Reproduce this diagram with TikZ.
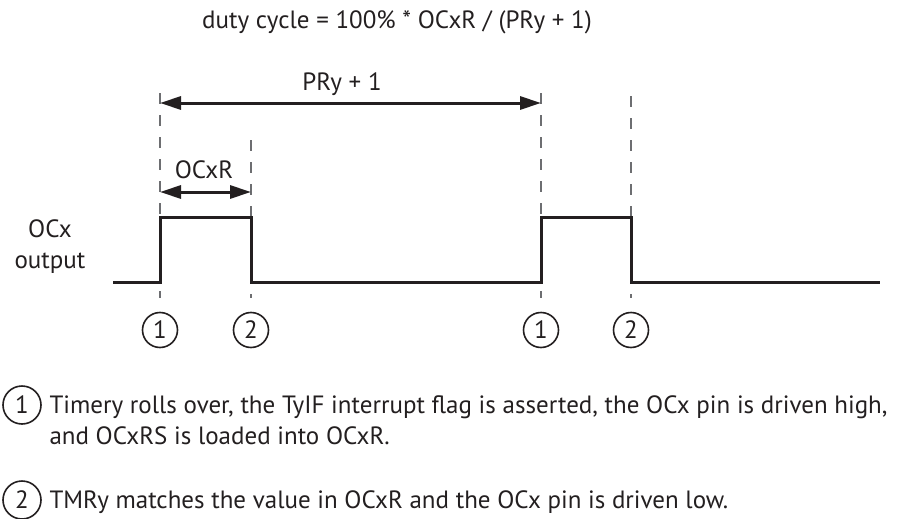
\documentclass[tikz,border=0pt]{standalone}
\usepackage{fontspec}
\setmainfont{PT Sans}
\usetikzlibrary{arrows.meta}

\definecolor{ink}{HTML}{231F20}
\definecolor{guidegray}{HTML}{6D6E71}

\begin{document}
\begin{tikzpicture}[
  x=1pt,
  y=-1pt,
  font=\fontsize{25}{31}\selectfont,
  every node/.style={text=ink},
  signal/.style={draw=ink,line width=3pt},
  guide/.style={draw=guidegray,line width=1.2pt,dash pattern=on 11pt off 11pt},
  span/.style={
    {Triangle[length=21pt,width=13pt]}-{Triangle[length=21pt,width=13pt]},
    draw=ink,
    line width=3pt
  },
  marker/.style={
    circle,
    draw=ink,
    line width=1.6pt,
    minimum size=35pt,
    inner sep=0pt
  },
  keymarker/.style={marker,minimum size=38pt}
]
  \useasboundingbox (0,0) rectangle (902,519);

  % edges of the two pulses
  \coordinate (rise1top) at (160,93);
  \coordinate (fall1top) at (251,140);
  \coordinate (rise2top) at (541,93);
  \coordinate (fall2top) at (631,96);
  \coordinate (rise1bot) at (160,298);
  \coordinate (fall1bot) at (251,298);
  \coordinate (rise2bot) at (541,298);
  \coordinate (fall2bot) at (631,298);

  \path[guide]
    (rise1top) edge (rise1bot)
    (fall1top) edge (fall1bot)
    (rise2top) edge (rise2bot)
    (fall2top) edge (fall2bot);

  \coordinate (lineleft) at (113,282);
  \coordinate (lineright) at (880,282);
  \draw[signal] (lineleft) -- (160,282) -- (160,217) -- (251,217) -- (251,282)
    -- (541,282) -- (541,217) -- (631,217) -- (631,282) -- (lineright);

  \coordinate (periodleft) at (160,103);
  \coordinate (periodright) at (541,103);
  \coordinate (dutyleft) at (160,192);
  \coordinate (dutyright) at (251,192);
  \draw[span] (periodleft) -- (periodright);
  \draw[span] (dutyleft) -- (dutyright);

  \node (formula) at (397,22) {duty cycle = 100\% * OCxR / (PRy + 1)};
  \node (period) at (342,84) {PRy + 1};
  \node (duty) at (204,170) {OCxR};
  \node[align=center] (output) at (50,247) {OCx\\output};

  \node[marker] (rise1mark) at (160,330) {1};
  \node[marker] (fall1mark) at (251,330) {2};
  \node[marker] (rise2mark) at (541,330) {1};
  \node[marker] (fall2mark) at (631,330) {2};

  \node[keymarker] (key1) at (22,405) {1};
  \node[anchor=base west] (key1line1) at (46,413)
    {Timery rolls over, the TyIF interrupt flag is asserted, the OCx pin is driven high,};
  \node[anchor=base west] (key1line2) at (46,444) {and OCxRS is loaded into OCxR.};
  \node[keymarker] (key2) at (22,500) {2};
  \node[anchor=base west] (key2line) at (46,508)
    {TMRy matches the value in OCxR and the OCx pin is driven low.};
\end{tikzpicture}
\end{document}
